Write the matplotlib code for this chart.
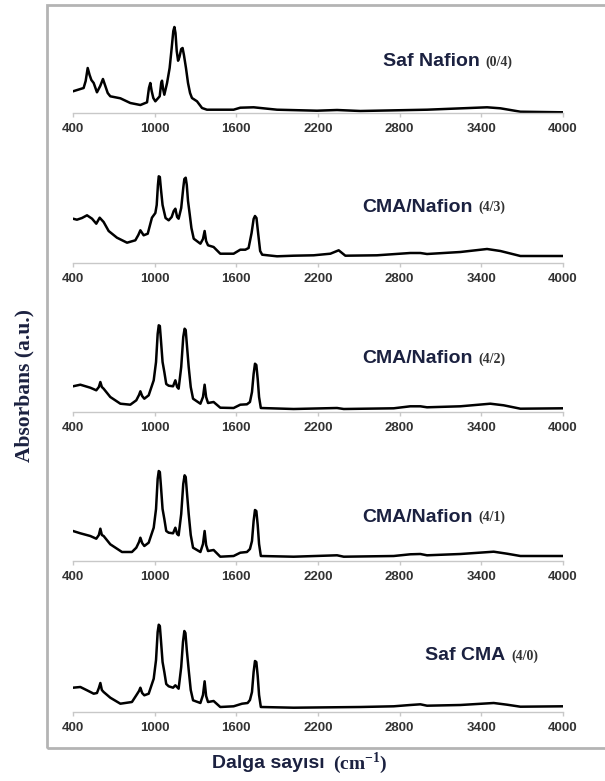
import matplotlib.pyplot as plt
from matplotlib.patches import Rectangle

plt.rcParams['mathtext.fontset'] = 'custom'
plt.rcParams['mathtext.rm'] = 'Liberation Serif'
plt.rcParams['mathtext.bf'] = 'Liberation Serif:bold'

# === Spektren: (Dalga sayısı, Absorbans in willkürlichen Einheiten) ===
saf_nafion = [(400, 21.7), (478, 25), (493, 32), (508, 45), (522, 38), (535, 33), (552, 30),
              (576, 20.7), (600, 27), (620, 34), (635, 28), (655, 20), (674, 16.7), (748, 14.7),
              (821, 10), (895, 8), (944, 10.7), (958, 25), (968, 30), (978, 22), (990, 15),
              (1005, 11.7), (1037, 16.7), (1048, 30), (1054, 32.3), (1062, 24), (1071, 18.3),
              (1091, 30), (1110, 45), (1125, 65), (1137, 82), (1145, 86), (1153, 80), (1162, 62),
              (1172, 52.3), (1182, 56), (1195, 64), (1205, 65), (1215, 58), (1230, 45), (1245, 30),
              (1260, 20), (1274, 15), (1311, 11.7), (1348, 5), (1384, 3.3), (1580, 3.3),
              (1629, 5.3), (1727, 5.7), (1899, 3.3), (2193, 2.3), (2340, 3), (2511, 2),
              (3001, 3.3), (3442, 5.7), (3540, 4.7), (3687, 1.3), (4000, 0.7)]

cma_nafion_43 = [(400, 44.3), (429, 43.3), (466, 45), (503, 47.7), (540, 44.3), (571, 39.3),
                 (596, 45.3), (625, 41), (662, 32), (723, 25.3), (797, 20.3), (858, 22.7),
                 (880, 28), (895, 32.7), (908, 30), (919, 27.7), (949, 29.3), (980, 45.3),
                 (1005, 50), (1015, 58), (1024, 78), (1030, 86.7), (1038, 86), (1046, 74),
                 (1058, 58), (1080, 45), (1103, 42.7), (1125, 46), (1140, 52), (1152, 54.3),
                 (1165, 46), (1176, 44.3), (1195, 55), (1210, 75), (1218, 84), (1228, 85.3),
                 (1236, 78), (1245, 62), (1257, 49.3), (1270, 35), (1287, 24.3), (1336, 19.3),
                 (1355, 24), (1367, 32), (1378, 22), (1392, 17.7), (1433, 16), (1482, 9.3),
                 (1580, 9.3), (1629, 13.3), (1666, 13.3), (1690, 15), (1712, 30), (1727, 44),
                 (1737, 47), (1748, 45), (1760, 30), (1775, 12), (1790, 8.3), (1899, 6.7),
                 (2021, 7.3), (2168, 7.7), (2291, 9.3), (2352, 12.7), (2401, 7.3), (2633, 7.7),
                 (2878, 10), (2952, 10), (3001, 9), (3246, 11), (3442, 14), (3540, 12),
                 (3687, 7), (4000, 7)]

cma_nafion_42 = [(400, 25.7), (454, 27.3), (527, 24.3), (571, 21.7), (590, 25), (601, 30),
                 (612, 25), (625, 23.3), (674, 15), (748, 8.3), (821, 7.3), (865, 11.7),
                 (885, 17), (895, 20.7), (908, 16), (924, 13.3), (956, 16.7), (993, 31.7),
                 (1010, 50), (1022, 78), (1030, 86.7), (1038, 86), (1046, 72), (1058, 50),
                 (1071, 40), (1085, 28), (1103, 26.3), (1135, 25.7), (1152, 31.7), (1165, 25),
                 (1176, 23.3), (1195, 45), (1210, 75), (1220, 83.3), (1228, 82), (1238, 65),
                 (1250, 45), (1265, 25), (1282, 13.3), (1336, 8.3), (1355, 15), (1367, 27.3),
                 (1378, 15), (1392, 9), (1433, 10), (1482, 4.3), (1580, 4), (1629, 7.3),
                 (1678, 7.7), (1700, 10), (1715, 20), (1727, 38), (1737, 48.3), (1747, 47),
                 (1757, 33), (1767, 15), (1780, 4), (2021, 3), (2340, 4), (2389, 3),
                 (2756, 3.7), (2878, 5.7), (2952, 5.7), (3001, 4.7), (3246, 5.7), (3466, 8.3),
                 (3564, 6.7), (3687, 3.3), (4000, 3.7)]

cma_nafion_41 = [(400, 30), (454, 27.7), (527, 25), (571, 22.3), (590, 26), (601, 32.3),
                 (612, 26), (625, 25), (674, 16.7), (760, 9), (833, 9), (865, 13.3),
                 (885, 19), (895, 23.3), (908, 18), (924, 15), (956, 18.3), (993, 33.3),
                 (1010, 52), (1022, 82), (1030, 90), (1038, 89), (1046, 75), (1058, 52),
                 (1071, 42), (1085, 30), (1103, 28.3), (1135, 27.7), (1152, 33.3), (1165, 27),
                 (1176, 25.7), (1195, 47), (1210, 77), (1220, 85.7), (1228, 84), (1238, 67),
                 (1250, 47), (1265, 26), (1282, 13.3), (1336, 9), (1355, 17), (1367, 30),
                 (1378, 16), (1392, 10), (1433, 11), (1482, 4.3), (1580, 5), (1629, 8.3),
                 (1678, 9), (1700, 12), (1715, 20), (1727, 40), (1737, 51), (1747, 50),
                 (1757, 36), (1767, 17), (1780, 5), (2021, 4.3), (2340, 5.7), (2389, 4.3),
                 (2756, 5), (2878, 6.7), (2952, 7), (3001, 5.7), (3246, 7), (3491, 9.3),
                 (3589, 7.3), (3687, 5), (4000, 5)]

saf_cma = [(400, 24.3), (454, 25), (503, 21.7), (552, 18.3), (576, 19), (590, 24), (601, 29),
           (612, 22), (625, 20), (674, 14.3), (748, 8.3), (833, 10), (865, 16.7), (885, 21),
           (895, 24.3), (908, 19), (924, 16.7), (956, 18.3), (993, 33.3), (1010, 52),
           (1022, 80), (1030, 87.3), (1038, 86), (1046, 72), (1058, 50), (1071, 40),
           (1085, 28), (1103, 25.7), (1135, 24.3), (1152, 26.7), (1176, 23.3), (1195, 45),
           (1208, 70), (1218, 81), (1226, 79), (1236, 62), (1250, 42), (1265, 22),
           (1282, 11.7), (1336, 9), (1355, 17), (1367, 30.7), (1378, 16), (1392, 10),
           (1433, 11), (1482, 5), (1580, 5.7), (1642, 8.3), (1683, 9), (1700, 12), (1715, 20),
           (1727, 40), (1737, 51), (1747, 50), (1757, 36), (1767, 17), (1780, 5), (2021, 4.3),
           (2511, 5), (2756, 5.7), (2878, 7), (2952, 7.7), (3001, 6.3), (3246, 7), (3491, 9),
           (3589, 7.3), (3687, 5.3), (4000, 5.7)]

names = ['Saf Nafion', 'CMA/Nafion', 'CMA/Nafion', 'CMA/Nafion', 'Saf CMA']
ratios = ['(0/4)', '(4/3)', '(4/2)', '(4/1)', '(4/0)']
spectra = [saf_nafion, cma_nafion_43, cma_nafion_42, cma_nafion_41, saf_cma]
xticks = [400, 1000, 1600, 2200, 2800, 3400, 4000]

# === Layout (Pixel) ===
W, H = 605, 781
fig = plt.figure(figsize=(W / 100, H / 100), dpi=100)

base_px = [113, 263, 412, 561, 712]
name_pos = [(383, 62), (362, 207), (362, 359), (362, 517), (425, 656)]
navy = '#1b2140'

for i, spec in enumerate(spectra):
    wn, ab = zip(*spec)
    ax = fig.add_axes([73 / W, 1 - base_px[i] / H, 490 / W, 100 / H])
    ax.plot(wn, ab, color='black', linewidth=1.8, solid_joinstyle='round')
    ax.set_xlim(400, 4000)
    ax.set_ylim(0, 100)
    for s in ['top', 'right', 'left']:
        ax.spines[s].set_visible(False)
    ax.spines['bottom'].set_color('#c8c8c8')
    ax.spines['bottom'].set_linewidth(1)
    ax.set_yticks([])
    ax.set_xticks(xticks)
    ax.tick_params(axis='x', length=3, width=1, color='#c8c8c8', pad=4,
                   labelsize=9.5, labelcolor='#333333')
    for lab in ax.get_xticklabels():
        lab.set_fontweight('bold')
        lab.set_family('Liberation Sans')
    ax.patch.set_alpha(0)

    # Probenname + Verhältnis
    nx, ny = name_pos[i]
    t = fig.text(nx / W, 1 - ny / H, names[i], fontsize=14, fontweight='bold',
                 family='Liberation Sans', color=navy, ha='left', va='center')
    fig.canvas.draw()
    bb = t.get_window_extent()
    fig.text((bb.x1 + 6) / W, 1 - ny / H, ratios[i], fontsize=10, fontweight='bold',
             family='Liberation Serif', color='#333333', ha='left', va='center')

# Achsentitel
fig.text(24 / W, 1 - 385 / H, 'Absorbans (a.u.)', rotation=90, fontsize=15.5,
         fontweight='bold', family='Liberation Serif', color=navy, ha='center', va='center')
fig.text(212 / W, 1 - 763 / H, 'Dalga sayısı', fontsize=14, fontweight='bold',
         family='Liberation Sans', color=navy, ha='left', va='center')
fig.text(333 / W, 1 - 763 / H, r'(cm$^{\mathbf{-1}}$)', fontsize=14, fontweight='bold',
         family='Liberation Serif', color=navy, ha='left', va='center')

# Rahmen
fig.patches.append(Rectangle((47 / W, 1 - 748 / H), 600 / W, 743 / H, fill=False,
                             edgecolor='#b4b4b4', linewidth=2, transform=fig.transFigure,
                             figure=fig))

plt.savefig('out.png', dpi=100)
